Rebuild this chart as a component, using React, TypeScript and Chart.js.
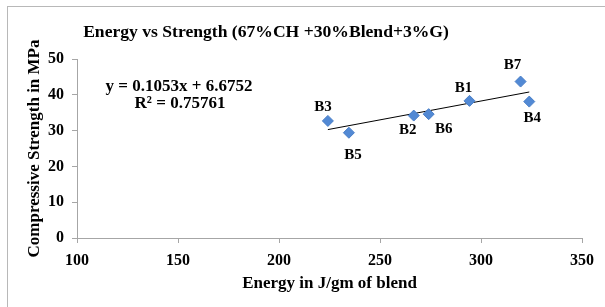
import React, { useEffect, useRef } from "react";
import { Chart, registerables } from "chart.js";

Chart.register(...registerables);

// ---- data ----
const sampleLabels = ["B3", "B5", "B2", "B6", "B1", "B7", "B4"];
const energyValues = [224.2, 234.6, 266.7, 274.1, 294.3, 319.6, 323.9];
const strengthValues = [32.7, 29.4, 34.2, 34.6, 38.3, 43.7, 38.1];
const trendSlope = 0.1053;
const trendIntercept = 6.6752;
const rSquaredText = "R² = 0.75761";
const equationText = "y = 0.1053x + 6.6752";
const xTicks = [100, 150, 200, 250, 300, 350];
const yTicks = [0, 10, 20, 30, 40, 50];

// label placement relative to each point (style, not data)
const labelOffsets: [number, number][] = [
  [-5, -14],
  [4, 22],
  [-6, 15],
  [15, 15],
  [-6, -13],
  [-8, -16],
  [3, 17],
];

const SERIF = '"Liberation Serif", "Times New Roman", serif';

export default function App() {
  const ref = useRef<HTMLCanvasElement | null>(null);

  useEffect(() => {
    const canvas = ref.current;
    if (!canvas) return;

    const points = energyValues.map((x, i) => ({ x, y: strengthValues[i] }));
    const xMin = Math.min(...energyValues);
    const xMax = Math.max(...energyValues);
    const trend = [
      { x: xMin, y: trendSlope * xMin + trendIntercept },
      { x: xMax, y: trendSlope * xMax + trendIntercept },
    ];

    const decorPlugin = {
      id: "decor",
      beforeDraw(chart: any) {
        const ctx = chart.ctx;
        ctx.save();
        ctx.fillStyle = "#ffffff";
        ctx.fillRect(0, 0, chart.width, chart.height);
        ctx.strokeStyle = "#b8b8b8";
        ctx.lineWidth = 1;
        ctx.strokeRect(7.5, 6.5, chart.width + 10, chart.height + 10);
        ctx.fillStyle = "#000";
        ctx.font = `bold 17.6px ${SERIF}`;
        ctx.textAlign = "center";
        ctx.textBaseline = "alphabetic";
        ctx.fillText("Energy vs Strength (67%CH +30%Blend+3%G)", 266, 37);
        ctx.restore();
      },
      afterDatasetsDraw(chart: any) {
        const ctx = chart.ctx;
        const meta = chart.getDatasetMeta(0);
        ctx.save();
        ctx.fillStyle = "#000";
        ctx.font = `bold 15px ${SERIF}`;
        ctx.textAlign = "center";
        ctx.textBaseline = "middle";
        meta.data.forEach((el: any, i: number) => {
          const [dx, dy] = labelOffsets[i];
          ctx.fillText(sampleLabels[i], el.x + dx, el.y + dy);
        });
        ctx.font = `bold 17px ${SERIF}`;
        ctx.fillText(equationText, 179, 87);
        ctx.fillText(rSquaredText, 180, 104);
        ctx.restore();
      },
    };

    const chart = new Chart(canvas, {
      type: "scatter",
      data: {
        datasets: [
          {
            label: "Strength",
            data: points,
            pointStyle: "rectRot",
            pointRadius: 5.5,
            pointHoverRadius: 5.5,
            backgroundColor: "#5289d4",
            borderColor: "#4a7fc8",
            borderWidth: 1,
          },
          {
            type: "line",
            label: "Trend",
            data: trend,
            borderColor: "#000000",
            borderWidth: 1,
            pointRadius: 0,
            fill: false,
          } as any,
        ],
      },
      options: {
        responsive: false,
        animation: false,
        layout: { padding: { top: 59, right: 23, left: 0, bottom: 0 } },
        plugins: {
          legend: { display: false },
          tooltip: { enabled: false },
          title: { display: false },
        },
        scales: {
          x: {
            type: "linear",
            min: xTicks[0],
            max: xTicks[xTicks.length - 1],
            afterBuildTicks: (s: any) => {
              s.ticks = xTicks.map((v) => ({ value: v }));
            },
            afterFit: (s: any) => {
              s.height = 69;
            },
            grid: {
              drawOnChartArea: false,
              drawTicks: true,
              tickLength: 5,
              color: "#a6a6a6",
            },
            border: { display: true, color: "#a6a6a6" },
            ticks: {
              color: "#000",
              padding: 8,
              font: { family: SERIF, size: 16, weight: "bold" },
              maxRotation: 0,
            },
            title: {
              display: true,
              text: "Energy in J/gm of blend",
              color: "#000",
              font: { family: SERIF, size: 17, weight: "bold" },
              padding: { top: 0, bottom: 13 },
            },
          },
          y: {
            type: "linear",
            min: yTicks[0],
            max: yTicks[yTicks.length - 1],
            afterBuildTicks: (s: any) => {
              s.ticks = yTicks.map((v) => ({ value: v }));
            },
            afterFit: (s: any) => {
              s.width = 77;
            },
            grid: {
              drawOnChartArea: false,
              drawTicks: true,
              tickLength: 5,
              color: "#a6a6a6",
            },
            border: { display: true, color: "#a6a6a6" },
            ticks: {
              color: "#000",
              padding: 8,
              font: { family: SERIF, size: 16, weight: "bold" },
            },
            title: {
              display: true,
              text: "Compressive Strength in MPa",
              color: "#000",
              font: { family: SERIF, size: 17, weight: "bold" },
              padding: { top: 24, bottom: 0 },
            },
          },
        },
      },
      plugins: [decorPlugin],
    });

    return () => chart.destroy();
  }, []);

  return (
    <div style={{ position: "fixed", left: 0, top: 0, width: 605, height: 307 }}>
      <canvas ref={ref} width={605} height={307} />
    </div>
  );
}
